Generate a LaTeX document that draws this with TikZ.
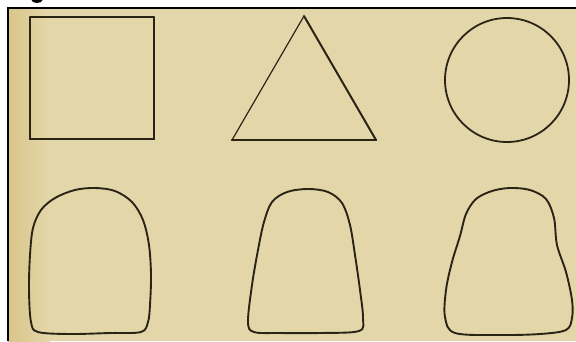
\documentclass[tikz,border=0pt]{standalone}
\usepackage{tikz}
\definecolor{bg}{HTML}{E3D7AA}
\definecolor{bgdark}{HTML}{DAC58A}
\definecolor{ink}{HTML}{2A2416}
\tikzset{
  outline/.style={draw=ink, line width=1.7pt, line join=round, line cap=round},
  thickedge/.style={draw=ink, line width=2.6pt, line cap=round},
  thinedge/.style={draw=ink, line width=1.2pt, line cap=round},
  blob/.style={outline, line width=1.9pt},
}
\begin{document}
\begin{tikzpicture}[x=1pt, y=-1pt]
\useasboundingbox (0,0) rectangle (576,341);
\clip (0,0) rectangle (576,341);
% paper
\fill[white] (0,0) rectangle (576,341);
\fill[bg] (8,8) rectangle (576,341);
\shade[left color=bgdark, right color=bg] (8,8) rectangle (50,341);
\draw[black, line width=1.8pt] (7.6,341) -- (7.6,7.6) -- (576,7.6);
% fragment of a glyph above the frame
\fill[black] (37,0) ellipse [x radius=5.5pt, y radius=3pt];
% square
\draw[outline, line width=1.5pt] (30,17) rectangle (154,139);
\draw[thickedge] (30,139) -- (154,139);
\draw[outline, line width=2pt] (154,17) -- (154,139);
% triangle
\draw[thinedge] (232,140) -- (304,16);
\draw[outline, line width=2pt] (304,16) -- (376,140);
\draw[thickedge] (232,140) -- (376,140);
% circle
\draw[outline, line width=1.8pt] (507,80) circle [radius=62pt];
% first rounded outline
\draw[blob] plot[smooth cycle, tension=0.55] coordinates {
  (31,322) (29,290) (30,255) (33,228) (41,210) (55,198) (75,190) (95,188)
  (115,191) (132,202) (143,220) (149,245) (151,275) (150,305) (148,322)
  (141,332) (110,333) (70,334) (38,332)};
% second rounded outline
\draw[blob] plot[smooth cycle, tension=0.55] coordinates {
  (248,322) (252,285) (258,250) (264,222) (272,202) (287,192) (308,189)
  (328,192) (342,203) (350,225) (355,255) (360,290) (363,318) (359,331)
  (320,333) (280,333) (254,332)};
% third rounded outline
\draw[blob] plot[smooth cycle, tension=0.55] coordinates {
  (445,317) (446,290) (452,262) (460,236) (466,214) (476,199) (492,191) (510,188)
  (530,190) (546,199) (554,218) (557,245) (566,272) (572,300) (572,318)
  (566,330) (540,334) (500,335) (455,333)};
\end{tikzpicture}
\end{document}
